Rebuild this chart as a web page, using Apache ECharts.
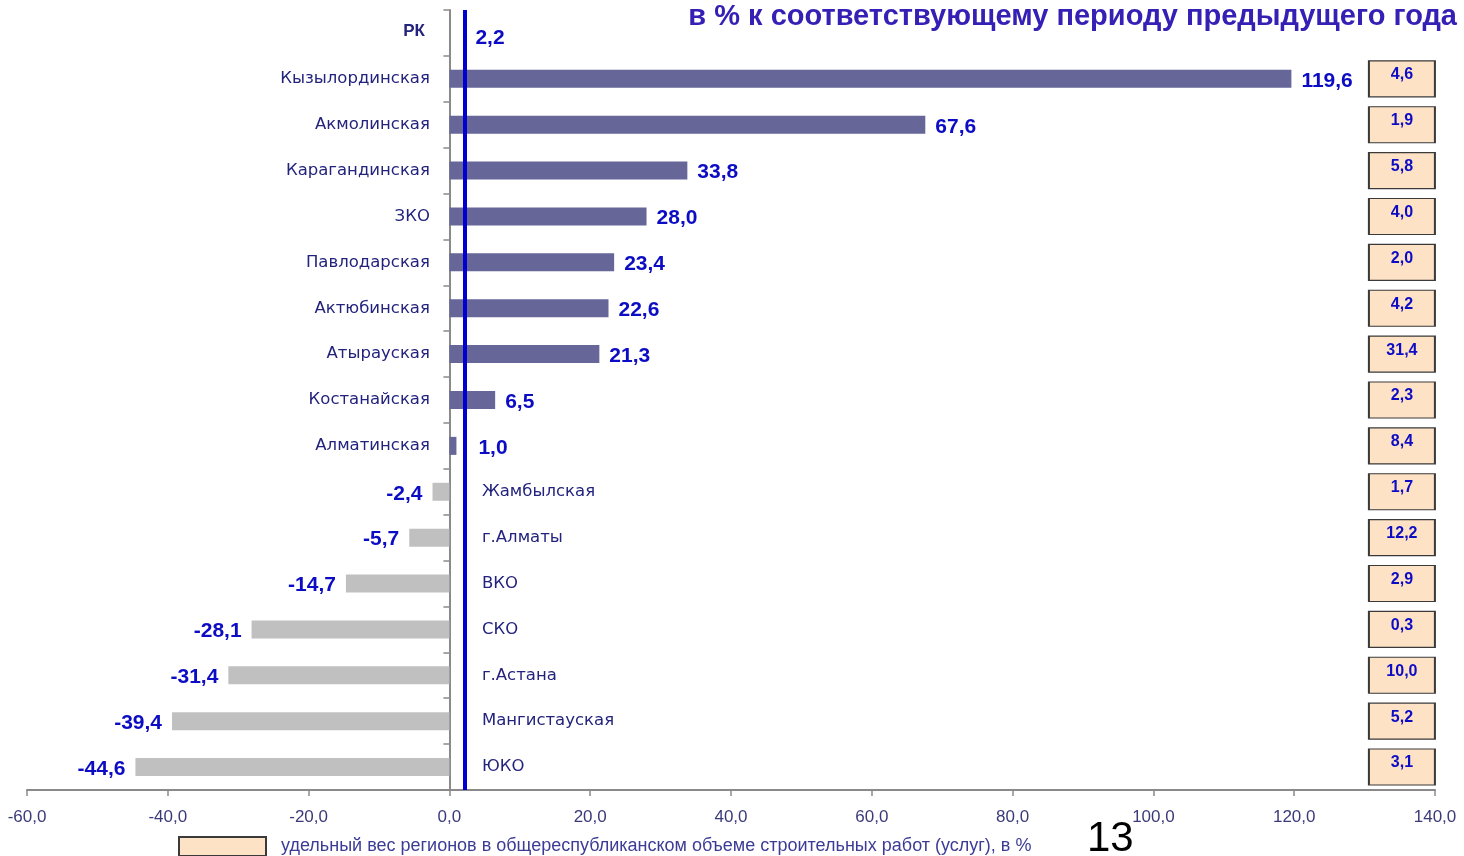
<!DOCTYPE html>
<html><head><meta charset="utf-8">
<script src="https://cdn.jsdelivr.net/npm/echarts@6/dist/echarts.min.js"></script>
<style>html,body{margin:0;padding:0;background:#fff}#c{width:1464px;height:856px}</style>
</head><body><div id="c"></div>
<script>
const categories = ['РК','Кызылординская','Акмолинская','Карагандинская','ЗКО','Павлодарская','Актюбинская','Атырауская','Костанайская','Алматинская','Жамбылская','г.Алматы','ВКО','СКО','г.Астана','Мангистауская','ЮКО'];
const growth = [null,119.6,67.6,33.8,28.0,23.4,22.6,21.3,6.5,1.0,-2.4,-5.7,-14.7,-28.1,-31.4,-39.4,-44.6];
const shares = [null,4.6,1.9,5.8,4.0,2.0,4.2,31.4,2.3,8.4,1.7,12.2,2.9,0.3,10.0,5.2,3.1];
const rkValue = 2.2;
const titleText = 'в % к соответствующему периоду предыдущего года';
const legendText = 'удельный вес регионов в общереспубликанском объеме строительных работ (услуг), в %';
const pageNumber = '13';
const xMin = -60, xMax = 140, xStep = 20;
const boxX = 135.3;

const fmt = v => v.toFixed(1).replace('.', ',');
const FONT = '"Liberation Sans", Arial, sans-serif';
const WIDE = '"DejaVu Sans", "Liberation Sans", sans-serif';
const BLUE = '#0c0cc4';
const NAVY = '#23237e';

const chart = echarts.init(document.getElementById('c'), null, {renderer:'canvas'});
const isNeg = i => growth[i] != null && growth[i] < 0;

const option = {
  animation:false,
  title:{ text:titleText, right:2, top:-3, textStyle:{fontFamily:FONT, fontWeight:'bold', fontSize:29, color:'#3420b4'} },
  grid:{ left:27, right:29, top:10, bottom:66, containLabel:false, outerBoundsMode:'none' },
  legend:{ left:178, top:836, padding:0, itemWidth:87, itemHeight:19, itemGap:15, data:[legendText],
    textStyle:{fontFamily:FONT, fontSize:18, color:'#3c3c96', padding:[0,0,0,10]} },
  xAxis:{ type:'value', min:xMin, max:xMax, interval:xStep, splitLine:{show:false},
    axisLine:{show:true, lineStyle:{color:'#8a8a8a', width:2}},
    axisTick:{show:true, length:6, lineStyle:{color:'#8a8a8a', width:1.5}},
    axisLabel:{ formatter: v => fmt(v), fontFamily:FONT, fontSize:17, color:'#3a3a7a', margin:19 } },
  yAxis:{ type:'category', inverse:true, data:categories,
    axisLine:{show:true, onZero:true, lineStyle:{color:'#8a8a8a', width:2}},
    axisTick:{show:true, length:6, lineStyle:{color:'#8a8a8a', width:1.5}},
    axisLabel:{ show:false } },
  series:[
    { type:'bar', name:'growth', barWidth:18, z:2,
      data: growth.map(v => v==null ? '-' : {
        value:v,
        itemStyle:{color: v>=0 ? '#666699' : '#c0c0c0'},
        label:{position: v>=0 ? 'right' : 'left', distance: (v>=0 && v<3) ? 22 : 10, offset:[0,2]}
      }),
      label:{ show:true, formatter:p => fmt(p.value), fontFamily:FONT, fontSize:21, fontWeight:'bold', color:BLUE },
      markLine:{ silent:true, symbol:['none','none'], animation:false,
        lineStyle:{color:'#0000d0', width:4, type:'solid'}, label:{show:false},
        data:[ {xAxis: rkValue} ] }
    },
    { type:'scatter', name:'rk', symbolSize:1, itemStyle:{color:'rgba(0,0,0,0)', opacity:1}, z:5,
      data:[[rkValue, categories[0]]],
      label:{show:true, position:'right', distance:10, offset:[0,5], formatter:fmt(rkValue),
        fontFamily:FONT, fontSize:21, fontWeight:'bold', color:BLUE} },
    { type:'scatter', name:'names', symbolSize:1, itemStyle:{color:'rgba(0,0,0,0)', opacity:1}, z:5,
      data: categories.map((c,i)=> ({
        value:[0, c],
        label: isNeg(i) ? {position:'right', distance:32}
             : (i===0 ? {position:'left', distance:24, offset:[0,-2], fontFamily:FONT, fontWeight:'bold', fontSize:17}
                      : {position:'left', distance:19})
      })),
      label:{show:true, formatter:p => p.value[1], fontFamily:WIDE, fontSize:16.5, color:NAVY} },
    { type:'scatter', name:legendText, symbol:'rect', symbolSize:[66,36], z:4,
      itemStyle:{color:'#fde2c6', borderColor:'#3a3a3a', borderWidth:1.5, opacity:1},
      data: shares.map((v,i)=> v==null ? null : [boxX, categories[i], v]).filter(Boolean),
      label:{show:true, position:'inside', offset:[0,-4], formatter:p => fmt(p.value[2]),
        fontFamily:FONT, fontSize:16, fontWeight:'bold', color:BLUE} }
  ],
  graphic:[ { type:'text', left:1087, top:818, style:{text:pageNumber, font:'42px "Liberation Sans", Arial, sans-serif', fill:'#000'} } ]
};
chart.setOption(option);
</script></body></html>
